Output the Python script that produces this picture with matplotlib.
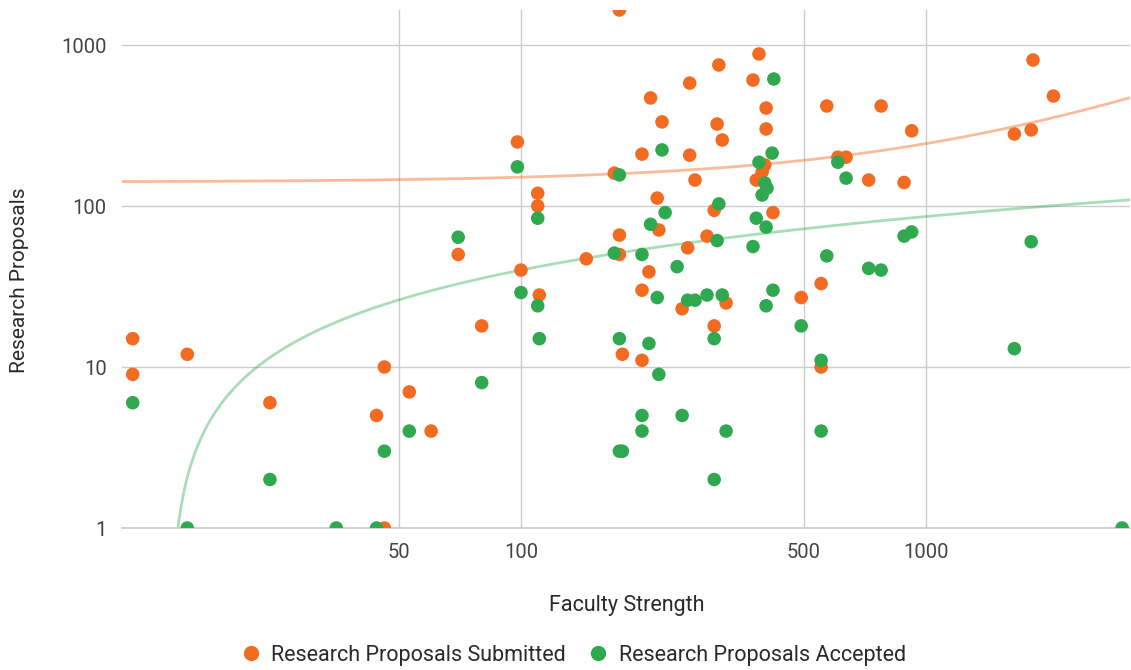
import numpy as np
import matplotlib
matplotlib.use("Agg")
import matplotlib.pyplot as plt
from matplotlib.lines import Line2D

plt.rcParams['font.family'] = ['Roboto', 'DejaVu Sans']

# Faculty strength and proposals per institution (0 = none recorded)
faculty_strength = [
    11, 11, 15, 24, 35, 44, 46, 46, 53, 60, 70, 80, 98, 100, 110, 110, 111, 145,
    170, 175, 175, 175, 178, 199, 199, 199, 207, 209, 217, 219, 223, 227, 243,
    250, 258, 261, 261, 269, 288, 300, 300, 305, 308, 314, 321, 374, 381, 387,
    394, 400, 403, 403, 405, 417, 419, 421, 492, 551, 551, 569, 606, 635, 722,
    775, 883, 922, 1653, 1819, 1838, 2064, 3050,
]
proposals_submitted = [
    15, 9, 12, 6, 0, 5, 10, 1, 7, 4, 50, 18, 250, 40, 120, 100, 28, 47,
    160, 1650, 66, 50, 12, 210, 30, 11, 39, 469, 112, 71, 333, 0, 0,
    23, 55, 580, 207, 145, 65, 94, 18, 323, 752, 257, 25, 606, 145, 880,
    163, 180, 406, 301, 0, 0, 91, 0, 27, 33, 10, 418, 201, 201, 145,
    418, 140, 293, 280, 297, 807, 482, 0,
]
proposals_accepted = [
    0, 6, 1, 2, 1, 1, 3, 0, 4, 0, 64, 8, 175, 29, 84, 24, 15, 0,
    51, 156, 15, 3, 3, 50, 5, 4, 14, 77, 27, 9, 223, 91, 42,
    5, 26, 0, 0, 26, 28, 15, 2, 61, 103, 28, 4, 56, 84, 187,
    117, 139, 74, 24, 129, 213, 30, 615, 18, 11, 4, 49, 187, 149, 41,
    40, 65, 69, 13, 60, 0, 0, 1,
]

# Logarithmic trendline of accepted proposals: y = intercept + slope * ln(x)
accepted_trend_intercept = -52.1
accepted_trend_slope = 20.0

series_labels = ["Research Proposals Submitted", "Research Proposals Accepted"]
x_tick_values = [50, 100, 500, 1000]
y_tick_values = [1, 10, 100, 1000]

ORANGE = "#F26B21"
GREEN = "#2FA84F"
TEXT = "#2a2a2a"
TICK_TEXT = "#444444"
GRID = "#CCCCCC"

x = np.array(faculty_strength, dtype=float)
sub = np.array(proposals_submitted, dtype=float)
acc = np.array(proposals_accepted, dtype=float)

W, H = 1131, 670
fig = plt.figure(figsize=(W / 100, H / 100), dpi=100)
ax = fig.add_axes([122 / W, 1 - 528 / H, (1130 - 122) / W, (528 - 10) / H])

ax.set_xscale("log")
ax.set_yscale("log")
xmin, xmax = 10.35, 3190
ax.set_xlim(xmin, xmax)
ax.set_ylim(1, 1650)

# Trendlines: linear for submitted, logarithmic for accepted
xs = np.logspace(np.log10(xmin), np.log10(xmax), 600)
b1, a1 = np.polyfit(x, sub, 1)
ax.plot(xs, a1 + b1 * xs, color=ORANGE, alpha=0.45, lw=2.0, zorder=2)
yg = accepted_trend_intercept + accepted_trend_slope * np.log(xs)
yg = np.where(yg > 0, yg, np.nan)
ax.plot(xs, yg, color=GREEN, alpha=0.4, lw=2.0, zorder=2)

ms = 95
m = sub > 0
ax.scatter(x[m], sub[m], s=ms, color=ORANGE, edgecolors="none", zorder=3)
m = acc > 0
ax.scatter(x[m], acc[m], s=ms, color=GREEN, edgecolors="none", zorder=4)

ax.set_xticks(x_tick_values)
ax.set_xticklabels([str(v) for v in x_tick_values])
ax.set_yticks(y_tick_values)
ax.set_yticklabels([str(v) for v in y_tick_values])
ax.xaxis.set_minor_locator(matplotlib.ticker.NullLocator())
ax.yaxis.set_minor_locator(matplotlib.ticker.NullLocator())
ax.tick_params(length=0, labelsize=14.5, colors=TICK_TEXT, pad=11)
ax.tick_params(axis="x", pad=11)

ax.grid(True, color=GRID, lw=1.0, zorder=0)
ax.set_axisbelow(True)
for side in ["top", "right", "left"]:
    ax.spines[side].set_visible(False)
ax.spines["bottom"].set_color(GRID)
ax.spines["bottom"].set_linewidth(1.2)

fig.text(627 / W, 1 - 606 / H, "Faculty Strength", ha="center", va="center",
         fontsize=15.5, color=TEXT)
fig.text(20 / W, 1 - 280 / H, "Research Proposals", ha="center", va="center",
         rotation=90, fontsize=15, color=TEXT)

handles = [
    Line2D([], [], ls="none", marker="o", ms=11, color=ORANGE, mec="none"),
    Line2D([], [], ls="none", marker="o", ms=11, color=GREEN, mec="none"),
]
fig.legend(handles, series_labels, loc="center", bbox_to_anchor=(573 / W, 1 - 655 / H),
           ncol=2, frameon=False, fontsize=15.5, labelcolor=TEXT,
           handletextpad=0.45, columnspacing=1.0, handlelength=1.0)

fig.savefig("out.png", dpi=100)
